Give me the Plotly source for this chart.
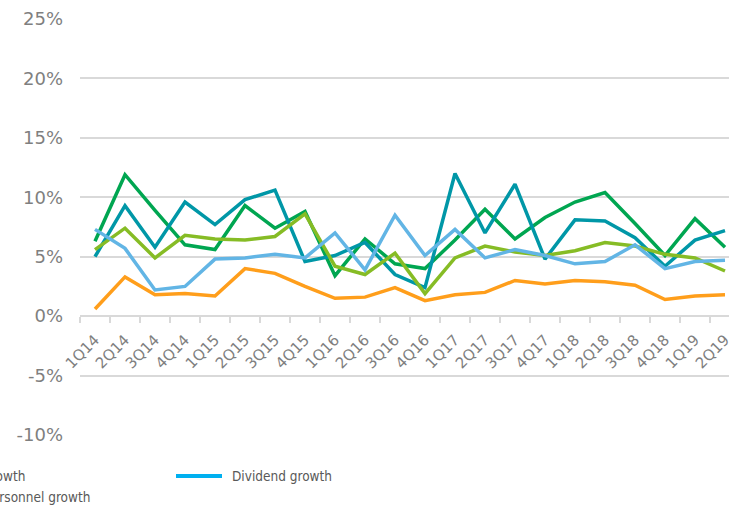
import plotly.graph_objects as go

# Quarterly categories
quarters = [
    "1Q14", "2Q14", "3Q14", "4Q14", "1Q15", "2Q15", "3Q15", "4Q15",
    "1Q16", "2Q16", "3Q16", "4Q16", "1Q17", "2Q17", "3Q17", "4Q17",
    "1Q18", "2Q18", "3Q18", "4Q18", "1Q19", "2Q19",
]

# Year-on-year growth, in percent
sales_growth = [6.3, 11.9, 8.9, 6.0, 5.6, 9.3, 7.4, 8.8, 3.4, 6.5, 4.4, 4.0,
                6.4, 9.0, 6.5, 8.3, 9.6, 10.4, 7.8, 5.1, 8.2, 5.8]
profit_growth = [5.0, 9.3, 5.8, 9.6, 7.7, 9.8, 10.6, 4.6, 5.1, 6.2, 3.5, 2.4,
                 12.0, 7.0, 11.1, 4.8, 8.1, 8.0, 6.6, 4.2, 6.4, 7.2]
wage_growth = [5.6, 7.4, 4.9, 6.8, 6.5, 6.4, 6.7, 8.6, 4.2, 3.5, 5.3, 1.9,
               4.9, 5.9, 5.4, 5.1, 5.5, 6.2, 5.9, 5.2, 4.9, 3.8]
dividend_growth = [7.3, 5.7, 2.2, 2.5, 4.8, 4.9, 5.2, 4.9, 7.0, 3.9, 8.5, 5.1,
                   7.3, 4.9, 5.6, 5.1, 4.4, 4.6, 6.0, 4.0, 4.6, 4.7]
personnel_growth = [0.6, 3.3, 1.8, 1.9, 1.7, 4.0, 3.6, 2.5, 1.5, 1.6, 2.4, 1.3,
                    1.8, 2.0, 3.0, 2.7, 3.0, 2.9, 2.6, 1.4, 1.7, 1.8]

series = [
    ("Sales growth", sales_growth, "#00A651"),
    ("Profit growth", profit_growth, "#0097A7"),
    ("Wage growth", wage_growth, "#86BC25"),
    ("Dividend growth", dividend_growth, "#62B5E5"),
    ("Personnel growth", personnel_growth, "#FF9E1B"),
]

y_ticks = [-10, -5, 0, 5, 10, 15, 20, 25]
y_tick_labels = ["-10%", "-5%", "0%", "5%", "10%", "15%", "20%", "25%"]

W, H = 729, 505
ML, MR, MT, MB = 80, 0, 19, 70
PW, PH = W - ML - MR, H - MT - MB
cat_px = 30.0

fig = go.Figure()
for name, vals, color in series:
    fig.add_trace(go.Scatter(
        x=quarters, y=vals, mode="lines", name=name,
        line=dict(color=color, width=3.5),
        showlegend=False,
    ))

x_max = -0.5 + PW / cat_px
y_min, y_max = y_ticks[0], y_ticks[-1]

axis_font = "DejaVu Sans, Verdana, sans-serif"

fig.update_layout(
    width=W, height=H,
    margin=dict(l=ML, r=MR, t=MT, b=MB, autoexpand=False),
    paper_bgcolor="white", plot_bgcolor="white",
    showlegend=False,
    font=dict(family=axis_font),
    xaxis=dict(
        type="category", range=[-0.5, x_max],
        anchor="free", position=(0 - y_min) / (y_max - y_min),
        showgrid=False, zeroline=False,
        showline=True, linecolor="#D9D9D9", linewidth=2,
        ticks="outside", tickson="boundaries", ticklen=6,
        tickcolor="#D9D9D9", tickwidth=1.5,
        tickangle=-45, ticklabelstandoff=8,
        tickfont=dict(family=axis_font, size=15, color="#7F7F7F"),
    ),
    yaxis=dict(
        range=[y_min, y_max], tickmode="array",
        tickvals=y_ticks, ticktext=y_tick_labels,
        showgrid=True, gridcolor="#D9D9D9", gridwidth=2,
        zeroline=False, showline=False, ticks="",
        ticklabelstandoff=16,
        tickfont=dict(family=axis_font, size=18, color="#7F7F7F"),
    ),
)


def px_x(px):
    return (px - ML) / PW


def px_y(py):
    return (H - MB - py) / PH


# Legend drawn below the plot (wider than the page, so partly off-canvas)
legend_font = dict(family="DejaVu Sans Condensed, DejaVu Sans, sans-serif",
                   size=13.5, color="#595959")
fig.add_annotation(xref="paper", yref="paper", x=px_x(27), y=px_y(476),
                   text=series[0][0], showarrow=False, xanchor="right",
                   yanchor="middle", font=legend_font)
fig.add_annotation(xref="paper", yref="paper", x=px_x(230), y=px_y(476),
                   text=series[3][0], showarrow=False, xanchor="left",
                   yanchor="middle", font=legend_font)
fig.add_annotation(xref="paper", yref="paper", x=px_x(92), y=px_y(497),
                   text=series[4][0], showarrow=False, xanchor="right",
                   yanchor="middle", font=legend_font)
fig.add_shape(type="line", xref="paper", yref="paper",
              x0=px_x(176), x1=px_x(222), y0=px_y(476), y1=px_y(476),
              line=dict(color="#00B0F0", width=4))

fig.write_html("out.html")
